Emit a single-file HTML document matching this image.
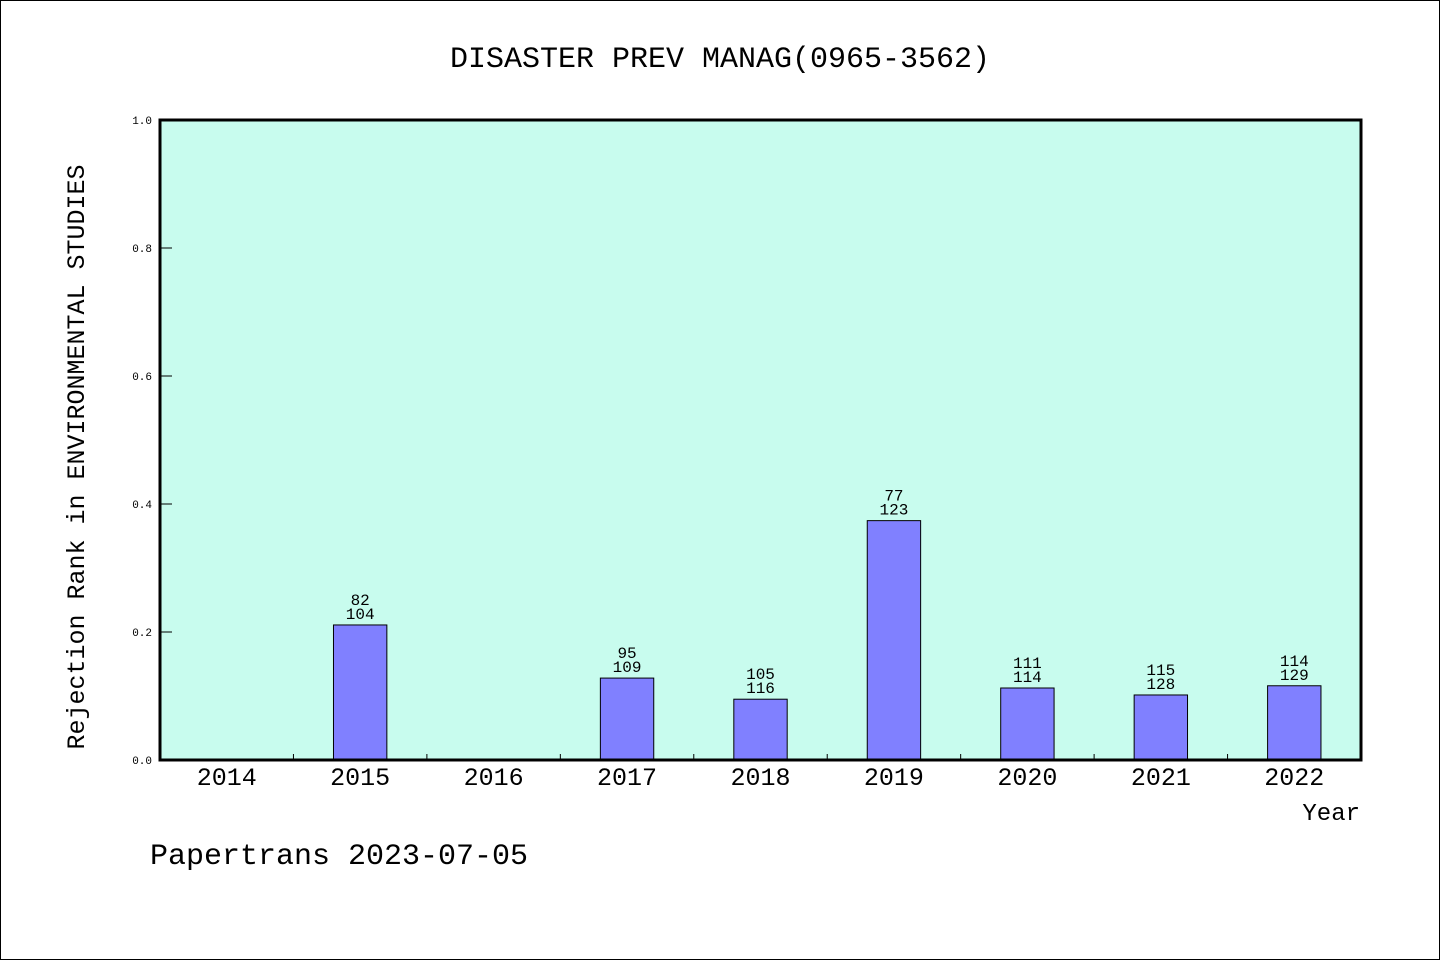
<!DOCTYPE html>
<html><head><meta charset="utf-8"><style>
html,body{margin:0;padding:0;background:#fff}
svg{display:block}
text{font-family:"Liberation Mono",monospace;fill:#000}
</style></head><body>
<svg id="chart" width="1440" height="960" viewBox="0 0 1440 960" xmlns="http://www.w3.org/2000/svg">
<rect x="0.5" y="0.5" width="1439" height="959" fill="#fff" stroke="#000"/>
<text x="720" y="67" font-size="30" text-anchor="middle">DISASTER PREV MANAG(0965-3562)</text>
<rect x="160" y="120" width="1201" height="640" fill="#c8fcee"/>
<g id="marks"></g>
<rect x="160" y="120" width="1201" height="640" fill="none" stroke="#000" stroke-width="3"/>
<text transform="translate(84,457) rotate(-90)" font-size="25" text-anchor="middle">Rejection Rank in ENVIRONMENTAL STUDIES</text>
<text x="1360" y="820" font-size="24" text-anchor="end">Year</text>
<text x="150" y="864" font-size="30">Papertrans 2023-07-05</text>
</svg>
<script>
const years = ['2014','2015','2016','2017','2018','2019','2020','2021','2022'];
const ranks = [null,82,null,95,105,77,111,115,114];
const totals = [null,104,null,109,116,123,114,128,129];
const values = [null,0.211,null,0.128,0.095,0.374,0.1125,0.1016,0.116];
const yTicks = [0,0.2,0.4,0.6,0.8,1.0];
const NS='http://www.w3.org/2000/svg';
const X0=160,X1=1361,Y0=760,Y1=120;
const band=(X1-X0)/years.length;
const xc=i=>X0+band*(i+0.5);
const y=v=>Y0-(Y0-Y1)*v;
const g=document.getElementById('marks');
function mk(t,a){const e=document.createElementNS(NS,t);for(const k in a)e.setAttribute(k,a[k]);g.appendChild(e);return e;}
yTicks.forEach(t=>{
  const l=mk('line',{x1:X0,x2:X0+12,y1:y(t),y2:y(t),stroke:'#000','stroke-width':1});
  
  
  const tx=mk('text',{x:X0-8,y:y(t)+4,'font-size':11,'text-anchor':'end'});
  tx.textContent=t.toFixed(1);
  
  
});
years.forEach((yr,i)=>{
  if(i>0){const l=mk('line',{x1:X0+band*i,x2:X0+band*i,y1:Y0,y2:Y0-6,stroke:'#000','stroke-width':1});
  
  }
  const tx=mk('text',{x:xc(i),y:785,'font-size':25,'text-anchor':'middle'});
  tx.textContent=yr;
  
  
  if(values[i]==null)return;
  const v=values[i];
  const w=band*0.4;
  const r=mk('rect',{x:xc(i)-w/2,y:y(v),width:w,height:Y0-y(v),fill:'#8080ff',stroke:'#000','stroke-width':1});
  
  
  const a=mk('text',{x:xc(i),y:y(v)-20,'font-size':16,'text-anchor':'middle'});
  a.textContent=ranks[i];
  
  
  const b=mk('text',{x:xc(i),y:y(v)-6,'font-size':16,'text-anchor':'middle'});
  b.textContent=totals[i];
  
  
});
</script>
</body></html>
